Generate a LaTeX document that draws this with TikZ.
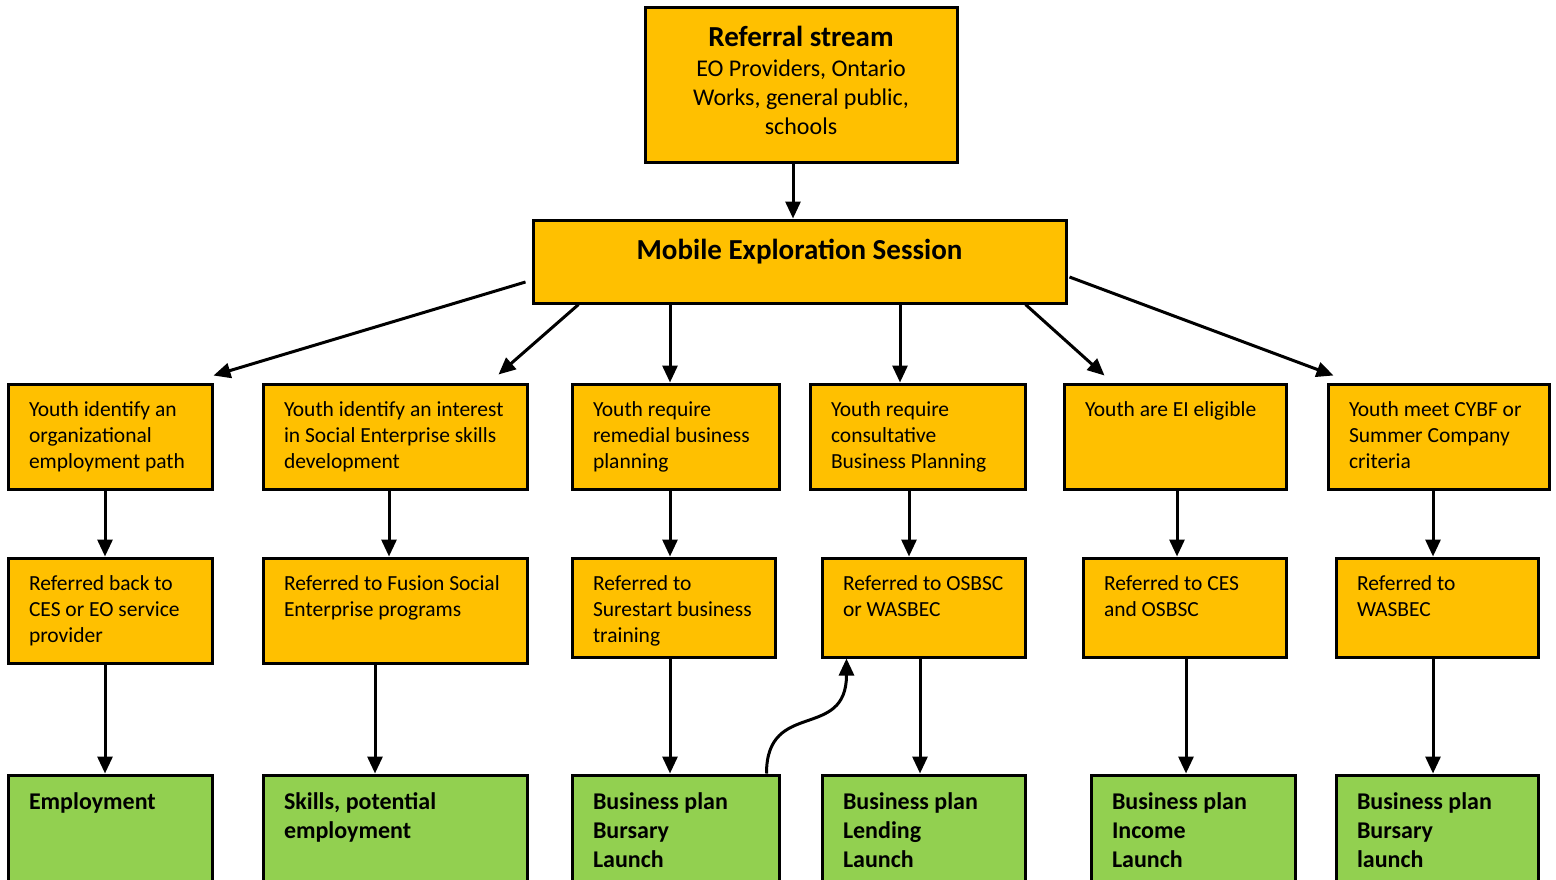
\documentclass[tikz,border=0pt]{standalone}
\usepackage{fontspec}
\setmainfont{Carlito}
\usetikzlibrary{arrows.meta,calc}
\definecolor{orng}{HTML}{FFC000}
\definecolor{grn}{HTML}{92D050}
\newcommand\obody{\fontsize{21.5}{26}\selectfont\raggedright\leftskip=21pt\relax\vspace*{13.8pt}\strut}
\newcommand\gbody{\fontsize{24}{29}\selectfont\bfseries\raggedright\leftskip=21pt\relax\vspace*{14.2pt}\strut}
\newcommand\mybox[7]{%
  \pgfmathsetmacro\bw{#4-#2}%
  \pgfmathsetmacro\bh{#5-#3}%
  \node[#6, minimum width=\bw pt, minimum height=\bh pt] (#1) at ({(#2+#4)/2},{(#3+#5)/2}) {\parbox[c][\bh pt][t]{\bw pt}{#7}};%
}
\begin{document}
\begin{tikzpicture}[x=1pt,y=-1pt,
  obox/.style={draw, line width=3pt, fill=orng, inner sep=0pt},
  gbox/.style={draw, line width=3pt, fill=grn, inner sep=0pt},
  arr/.style={line width=3pt, -{Triangle[length=17pt,width=15pt]}}]
\useasboundingbox (0,0) rectangle (1556,879);
\clip (0,0) rectangle (1556,879);
% top
\mybox{top}{645}{7}{957}{162}{obox}{\centering\fontsize{29}{31}\selectfont\bfseries\vspace*{18pt}\strut Referral stream\par\vspace{1pt}\fontsize{24}{29}\selectfont\mdseries EO Providers, Ontario\\Works, general public,\\schools\par}
\mybox{mes}{533}{220}{1066}{303}{obox}{\centering\fontsize{29}{31}\selectfont\bfseries\vspace*{18pt}\strut Mobile Exploration Session\par}
% row 1
\mybox{b1}{8}{384}{212}{489}{obox}{\obody Youth identify an\\organizational\\employment path}
\mybox{b2}{263}{384}{527}{489}{obox}{\obody Youth identify an interest\\in Social Enterprise skills\\development}
\mybox{b3}{572}{384}{779}{489}{obox}{\obody Youth require\\remedial business\\planning}
\mybox{b4}{810}{384}{1025}{489}{obox}{\obody Youth require\\consultative\\Business Planning}
\mybox{b5}{1064}{384}{1286}{489}{obox}{\obody Youth are EI eligible}
\mybox{b6}{1328}{384}{1549}{489}{obox}{\obody Youth meet CYBF or\\Summer Company\\criteria}
% row 2
\mybox{c1}{8}{558}{212}{663}{obox}{\obody Referred back to\\CES or EO service\\provider}
\mybox{c2}{263}{558}{527}{663}{obox}{\obody Referred to Fusion Social\\Enterprise programs}
\mybox{c3}{572}{558}{775}{657}{obox}{\obody Referred to\\Surestart business\\training}
\mybox{c4}{822}{558}{1025}{657}{obox}{\obody Referred to OSBSC\\or WASBEC}
\mybox{c5}{1083}{558}{1286}{657}{obox}{\obody Referred to CES\\and OSBSC}
\mybox{c6}{1336}{558}{1538}{657}{obox}{\obody Referred to\\WASBEC}
% row 3
\mybox{d1}{8}{775}{212}{900}{gbox}{\gbody Employment}
\mybox{d2}{263}{775}{527}{900}{gbox}{\gbody Skills, potential\\employment}
\mybox{d3}{572}{775}{779}{900}{gbox}{\gbody Business plan\\Bursary\\Launch}
\mybox{d4}{822}{775}{1025}{900}{gbox}{\gbody Business plan\\Lending\\Launch}
\mybox{d5}{1091}{775}{1295}{900}{gbox}{\gbody Business plan\\Income\\Launch}
\mybox{d6}{1336}{775}{1538}{900}{gbox}{\gbody Business plan\\Bursary\\launch}
% arrows
\draw[arr] ([xshift=-8pt]top.south) -- ([xshift=-6.5pt]mes.north);
\draw[arr] ([xshift=-6pt,yshift=-20.5pt]mes.west) -- ([yshift=7pt]b1.north east);
\draw[arr] ([xshift=47pt]mes.south west) -- ([xshift=-30pt,yshift=8pt]b2.north east);
\draw[arr] ([xshift=-129.5pt]mes.south) -- ([xshift=-5.5pt]b3.north);
\draw[arr] ([xshift=100.5pt]mes.south) -- ([xshift=-17.5pt]b4.north);
\draw[arr] ([xshift=-42pt]mes.south east) -- ([xshift=42pt,yshift=7pt]b5.north west);
\draw[arr] ([xshift=2pt,yshift=-15.5pt]mes.east) -- ([xshift=7pt,yshift=7pt]b6.north west);
% row1 -> row2
\draw[arr] ([xshift=-5pt]b1.south) -- ([xshift=-5pt]c1.north);
\draw[arr] ([xshift=-6pt]b2.south) -- ([xshift=-6pt]c2.north);
\draw[arr] ([xshift=-5.5pt]b3.south) -- ([xshift=-3.5pt]c3.north);
\draw[arr] ([xshift=-8.5pt]b4.south) -- ([xshift=-14.5pt]c4.north);
\draw[arr] ([xshift=2pt]b5.south) -- ([xshift=-7.5pt]c5.north);
\draw[arr] ([xshift=-5.5pt]b6.south) -- ([xshift=-4pt]c6.north);
% row2 -> row3
\draw[arr] ([xshift=-5pt]c1.south) -- ([xshift=-5pt]d1.north);
\draw[arr] ([xshift=-20pt]c2.south) -- ([xshift=-20pt]d2.north);
\draw[arr] ([xshift=-3.5pt]c3.south) -- ([xshift=-5.5pt]d3.north);
\draw[arr] ([xshift=-3.5pt]c4.south) -- ([xshift=-3.5pt]d4.north);
\draw[arr] ([xshift=1.5pt]c5.south) -- ([xshift=-7pt]d5.north);
\draw[arr] ([xshift=-4pt]c6.south) -- ([xshift=-4pt]d6.north);
% curved
\draw[arr] ([xshift=-14pt]d3.north east) .. controls +(0,-75) and +(0,83) .. ([xshift=26pt]c4.south west);
\end{tikzpicture}
\end{document}
